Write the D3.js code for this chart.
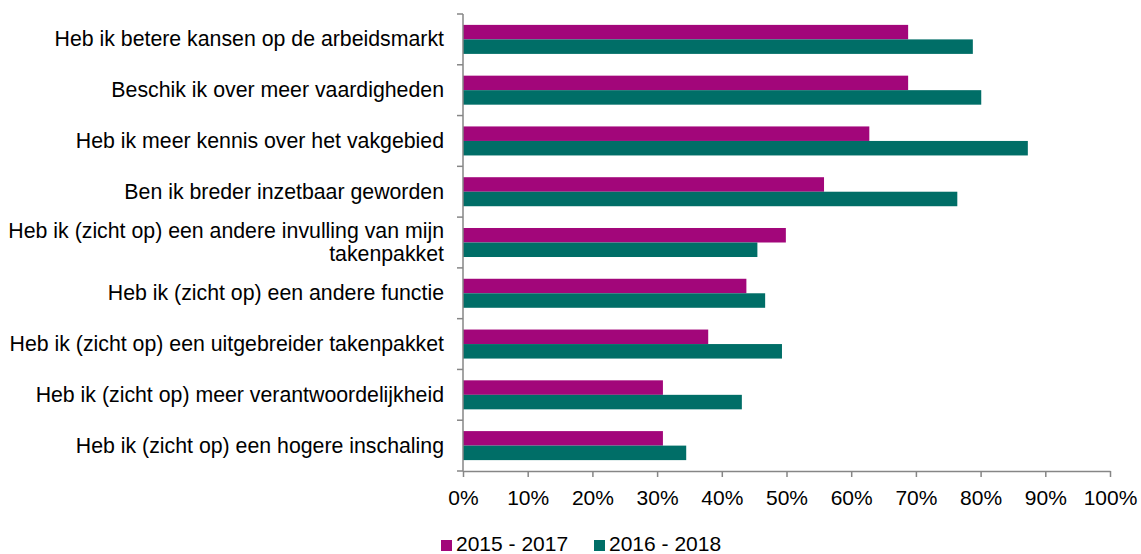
<!DOCTYPE html>
<html>
<head>
<meta charset="utf-8">
<script src="https://cdn.jsdelivr.net/npm/d3@7"></script>
<style>
  body { margin: 0; background: #fff; }
  text { font-family: Arial, "Liberation Sans", sans-serif; fill: #000; }
</style>
</head>
<body>
<div id="chart"></div>
<script>
// categories, top to bottom
const categories = [
    ["Heb ik betere kansen op de arbeidsmarkt"],
    ["Beschik ik over meer vaardigheden"],
    ["Heb ik meer kennis over het vakgebied"],
    ["Ben ik breder inzetbaar geworden"],
    ["Heb ik (zicht op) een andere invulling van mijn", "takenpakket"],
    ["Heb ik (zicht op) een andere functie"],
    ["Heb ik (zicht op) een uitgebreider takenpakket"],
    ["Heb ik (zicht op) meer verantwoordelijkheid"],
    ["Heb ik (zicht op) een hogere inschaling"]
];
const seriesNames = ["2015 - 2017", "2016 - 2018"];
const values2015 = [0.688, 0.688, 0.628, 0.558, 0.499, 0.438, 0.379, 0.309, 0.309];
const values2016 = [0.788, 0.801, 0.873, 0.764, 0.455, 0.467, 0.493, 0.431, 0.345];
const xTicks = [0, 0.1, 0.2, 0.3, 0.4, 0.5, 0.6, 0.7, 0.8, 0.9, 1.0];

const colors = ["#A2067A", "#006E67"];
const W = 1141, H = 554;
const margin = { top: 14, right: 31, bottom: 83, left: 463 };

const svg = d3.select("#chart").append("svg")
    .attr("width", W).attr("height", H);

const x = d3.scaleLinear().domain([0, 1]).range([margin.left, W - margin.right]);
const y = d3.scaleBand().domain(d3.range(categories.length))
    .range([margin.top, H - margin.bottom]).padding(0);
const ySub = d3.scaleBand().domain([0, 1]).range([0, y.bandwidth()])
    .paddingInner(0).paddingOuter(0.75);

const seriesData = [values2015, values2016];

// bars
seriesData.forEach((vals, s) => {
    svg.append("g").selectAll("rect")
        .data(vals)
        .join("rect")
        .attr("x", x(0))
        .attr("y", (d, i) => y(i) + ySub(s))
        .attr("width", d => x(d) - x(0))
        .attr("height", ySub.bandwidth())
        .attr("fill", colors[s]);
});

// y axis (ticks on band boundaries)
const yAxis = svg.append("g");
yAxis.append("line")
    .attr("x1", x(0)).attr("x2", x(0))
    .attr("y1", y.range()[0]).attr("y2", y.range()[1])
    .attr("stroke", "#868686").attr("stroke-width", 1.5);
yAxis.selectAll("line.tick")
    .data(d3.range(categories.length + 1))
    .join("line")
    .attr("class", "tick")
    .attr("x1", x(0) - 6).attr("x2", x(0))
    .attr("y1", i => y.range()[0] + i * y.step())
    .attr("y2", i => y.range()[0] + i * y.step())
    .attr("stroke", "#868686").attr("stroke-width", 1.5);

// category labels
svg.append("g").selectAll("text")
    .data(categories)
    .join("text")
    .attr("text-anchor", "end")
    .attr("x", x(0) - 19)
    .attr("y", (d, i) => y(i) + y.bandwidth() / 2)
    .style("font-size", "21.3px")
    .each(function (lines) {
        const t = d3.select(this);
        const lh = 23;
        lines.forEach((l, k) => {
            t.append("tspan")
                .attr("x", x(0) - 19)
                .attr("y", +t.attr("y") + (k - (lines.length - 1) / 2) * lh + 7)
                .text(l);
        });
    });

// x axis
const xAxis = svg.append("g")
    .attr("transform", `translate(0,${y.range()[1]})`)
    .call(d3.axisBottom(x).tickValues(xTicks).tickFormat(d3.format(".0%"))
        .tickSizeInner(6).tickSizeOuter(0).tickPadding(13));
xAxis.select(".domain").attr("stroke", "#868686").attr("stroke-width", 1.5);
xAxis.selectAll(".tick line").attr("stroke", "#868686").attr("stroke-width", 1.5);
xAxis.selectAll(".tick text")
    .style("font-size", "21px")
    .style("font-family", "Arial, 'Liberation Sans', sans-serif")
    .attr("fill", "#000");

// legend
const legend = svg.append("g").attr("transform", "translate(441,540)");
const legendX = [0, 153];
seriesNames.forEach((name, s) => {
    const g = legend.append("g").attr("transform", `translate(${legendX[s]},0)`);
    g.append("rect").attr("width", 11).attr("height", 11).attr("fill", colors[s]);
    g.append("text").attr("x", 15).attr("y", 11)
        .style("font-size", "21px").text(name);
});
</script>
</body>
</html>
